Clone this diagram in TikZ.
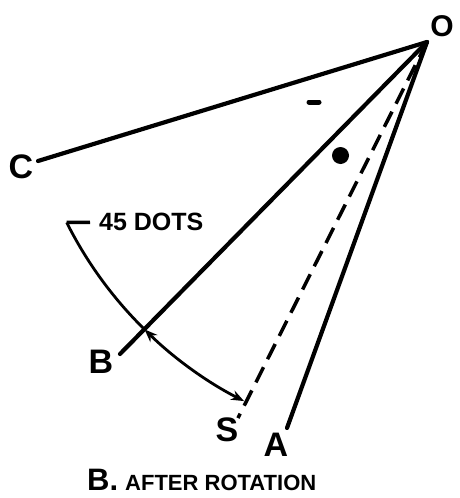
\documentclass[tikz,border=0pt]{standalone}
\usepackage{fontspec}
\setmainfont{Liberation Sans}
\usetikzlibrary{arrows.meta,calc}
\begin{document}
\begin{tikzpicture}[x=1pt,y=1pt,
  >={Stealth[length=13pt,width=10pt]},
  ray/.style={line width=4.2pt,line cap=round},
  dashray/.style={line width=3.5pt,dash pattern=on 17pt off 9pt},
  arcline/.style={line width=2.8pt},
  bigletter/.style={font=\fontsize{34}{34}\selectfont\bfseries,inner sep=0pt},
  smalltext/.style={font=\fontsize{25}{25}\selectfont\bfseries,inner sep=0pt}]
\useasboundingbox (0,0) rectangle (459,-498);
\coordinate (O) at (427,-42);
\coordinate (Cend) at (38,-161);
\coordinate (Bend) at (120,-354);
\coordinate (Send) at (238,-418);
\coordinate (Aend) at (287,-428);
% rays
\draw[ray] (O) -- (Cend);
\draw[ray] (O) -- (Bend);
\draw[ray] (O) -- (Aend);
\draw[dashray] (O) -- (Send);
% arc
\coordinate (arcstart) at ($(O)+(206.6:403)$);
\coordinate (arcmid) at ($(O)+(225.5:403)$);
\draw[arcline] (arcstart) arc[start angle=206.6,end angle=225.5,radius=403];
\draw[arcline,<->] (arcmid) arc[start angle=225.5,end angle=243,radius=403];
% leader
\coordinate (lead) at (90,-222.4);
\draw[line width=3.5pt] (arcstart) -- (lead);
\node[smalltext,anchor=west] (dots) at (99,-222) {45 DOTS};
% marks
\fill (340.5,-155.5) circle (8.5);
\draw[line width=5pt,line cap=round] (309,-102) -- (319,-102);
% labels
\node[font=\fontsize{30}{30}\selectfont\bfseries,inner sep=0pt] (Olab) at (442,-26) {O};
\node[bigletter] (Clab) at (21,-167) {C};
\node[bigletter] (Blab) at (101,-362) {B};
\node[bigletter] (Slab) at (227,-430) {S};
\node[bigletter] (Alab) at (276,-445) {A};
\node[font=\fontsize{31}{31}\selectfont\bfseries,inner sep=0pt,anchor=base west] (capB) at (87,-490) {B.};
\node[font=\fontsize{22}{22}\selectfont\bfseries,inner sep=0pt,anchor=base west] (cap) at (125,-490) {AFTER ROTATION};
\end{tikzpicture}
\end{document}
